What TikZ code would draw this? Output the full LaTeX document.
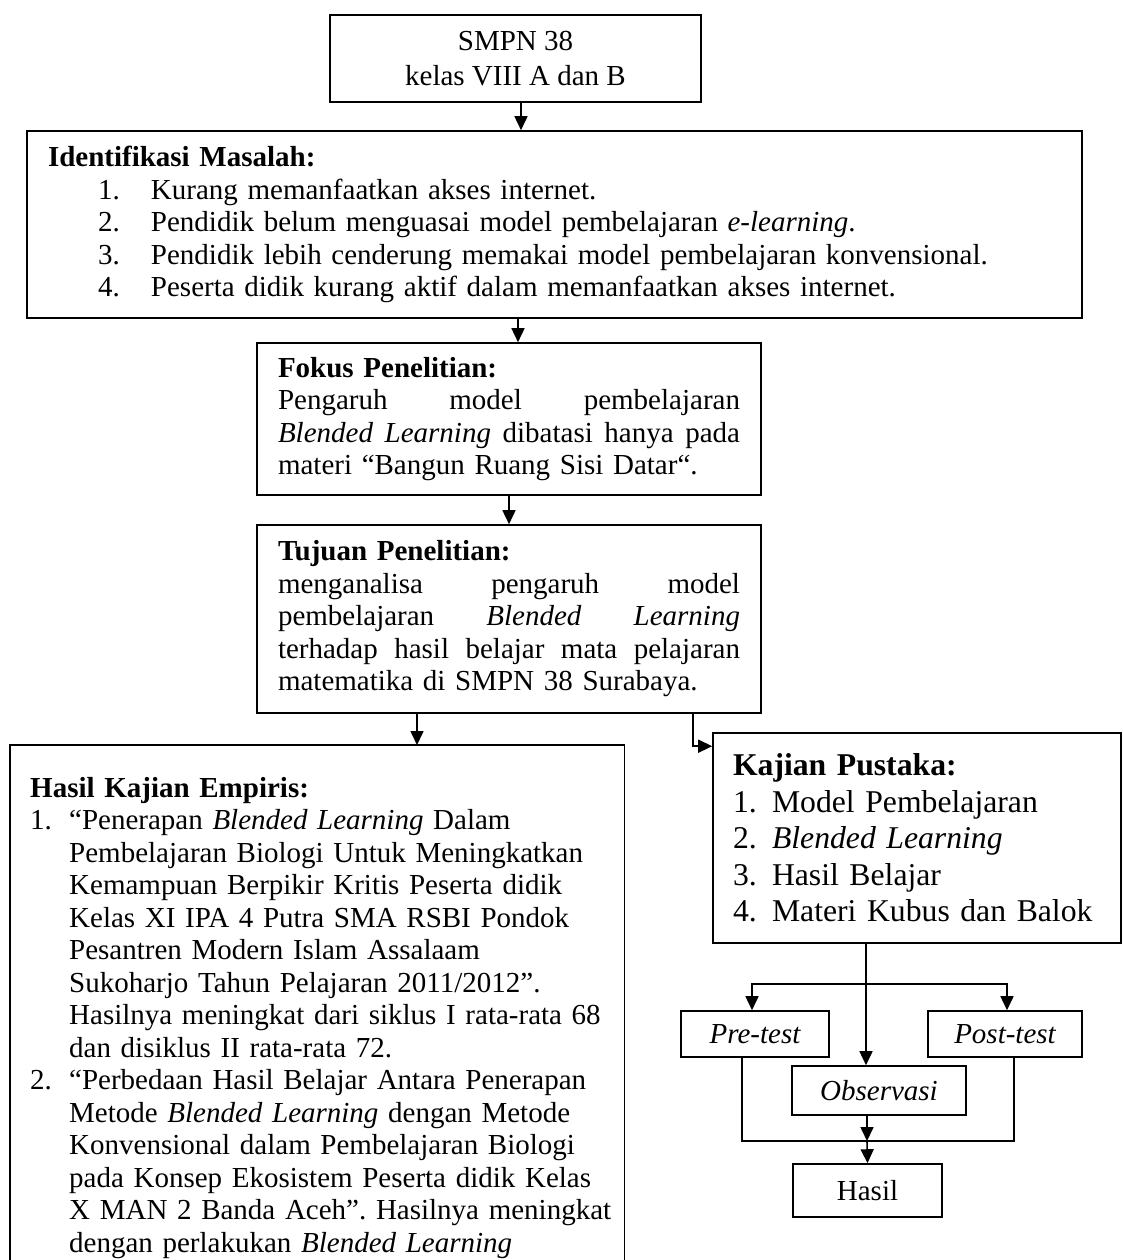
\documentclass[tikz,border=0pt]{standalone}
\usepackage{fontspec}
\setmainfont{Liberation Serif}
\usetikzlibrary{arrows.meta,positioning,calc}
\frenchspacing
\newcommand{\body}{\fontsize{29}{32.5}\selectfont}
\newcommand{\nm}[1]{\makebox[39pt][l]{#1}}
\tikzset{
  box/.style={draw,line width=1.6pt,inner xsep=21pt,inner ysep=0pt,align=left,font=\body},
  arr/.style={line width=1.6pt,-{Triangle[length=14pt,width=13pt]}},
  wire/.style={line width=1.6pt},
}

\begin{document}
\begin{tikzpicture}[x=1pt,y=-1pt]
 \useasboundingbox (0,0) rectangle (1123,1260);
 \node[box,align=center,minimum width=371pt,minimum height=87pt,
   font=\fontsize{29}{35}\selectfont] (smp) at (515.5,58.5) {SMPN 38\\kelas VIII A dan B};
 \node[box,text width=1013pt,minimum height=187pt] (iden) at (554.5,224.5)
  {\textbf{Identifikasi Masalah:}\\
   \hspace*{50pt}\makebox[53pt][l]{1.}Kurang memanfaatkan akses internet.\\
   \hspace*{50pt}\makebox[53pt][l]{2.}Pendidik belum menguasai model pembelajaran \textit{e-learning}.\\
   \hspace*{50pt}\makebox[53pt][l]{3.}Pendidik lebih cenderung memakai model pembelajaran konvensional.\\
   \hspace*{50pt}\makebox[53pt][l]{4.}Peserta didik kurang aktif dalam memanfaatkan akses internet.};
 \node[box,text width=462pt,minimum height=152pt] (fokus) at (509,419)
  {\textbf{Fokus Penelitian:}\\
   Pengaruh\hfill model\hfill pembelajaran\\
   \textit{Blended}\hfill\textit{Learning}\hfill dibatasi\hfill hanya\hfill pada\\
   materi “Bangun Ruang Sisi Datar“.};
 \node[box,text width=462pt,minimum height=188pt] (tujuan) at (509,619)
  {\textbf{Tujuan Penelitian:}\\
   menganalisa\hfill pengaruh\hfill model\\
   pembelajaran\hfill\textit{Blended}\hfill\textit{Learning}\\
   terhadap\hfill hasil\hfill belajar\hfill mata\hfill pelajaran\\
   matematika di SMPN 38 Surabaya.};
 \node[anchor=north west,align=left,font=\body,inner xsep=20pt,inner ysep=32pt,
   text width=594pt] (empiris) at (10,745)
  {\textbf{Hasil Kajian Empiris:}\\
   \nm{1.}“Penerapan \textit{Blended Learning} Dalam\\
   \nm{}Pembelajaran Biologi Untuk Meningkatkan\\
   \nm{}Kemampuan Berpikir Kritis Peserta didik\\
   \nm{}Kelas XI IPA 4 Putra SMA RSBI Pondok\\
   \nm{}Pesantren Modern Islam Assalaam\\
   \nm{}Sukoharjo Tahun Pelajaran 2011/2012”.\\
   \nm{}Hasilnya meningkat dari siklus I rata-rata 68\\
   \nm{}dan disiklus II rata-rata 72.\\
   \nm{2.}“Perbedaan Hasil Belajar Antara Penerapan\\
   \nm{}Metode \textit{Blended Learning} dengan Metode\\
   \nm{}Konvensional dalam Pembelajaran Biologi\\
   \nm{}pada Konsep Ekosistem Peserta didik Kelas\\
   \nm{}X MAN 2 Banda Aceh”. Hasilnya meningkat\\
   \nm{}dengan perlakukan \textit{Blended Learning}};
 \draw[wire] (empiris.north west) rectangle ([xshift=-20pt]empiris.south east);
 \node[box,inner xsep=20pt,text width=368pt,minimum height=210pt,
   font=\fontsize{31.7}{36.5}\selectfont] (pustaka) at (917,838)
  {\textbf{Kajian Pustaka:}\\
   \nm{1.}Model Pembelajaran\\
   \nm{2.}\textit{Blended Learning}\\
   \nm{3.}Hasil Belajar\\
   \nm{4.}Materi Kubus dan Balok};
 \node[box,align=center,inner xsep=0pt,minimum width=148pt,minimum height=46pt,
   font=\body\itshape] (pre) at (755,1034) {Pre-test};
 \node[box,align=center,inner xsep=0pt,minimum width=154pt,minimum height=46pt,
   font=\body\itshape] (post) at (1005,1034) {Post-test};
 \node[box,align=center,inner xsep=0pt,minimum width=174pt,minimum height=49pt,
   font=\body\itshape] (obs) at (879,1090.5) {Observasi};
 \node[box,align=center,inner xsep=0pt,minimum width=149pt,minimum height=53pt] (hasil) at (867.5,1190.5) {Hasil};
 \coordinate (split) at (866,984);
 \coordinate (merge) at (867,1141);
 \draw[arr] ([xshift=5.5pt]smp.south) -- ([xshift=5.5pt]smp.south |- iden.north);
 \draw[arr] ([xshift=9pt]fokus.north |- iden.south) -- ([xshift=9pt]fokus.north);
 \draw[arr] (fokus.south) -- (tujuan.north);
 \draw[arr] ([xshift=-92pt]tujuan.south) -- ([xshift=-92pt]tujuan.south |- empiris.north);
 \draw[arr] ([xshift=184pt]tujuan.south) |- ([yshift=-14pt]pustaka.north west);
 \draw[arr] ([xshift=-51pt]pustaka.south) -- ([xshift=-51pt]pustaka.south |- obs.north);
 \draw[arr] (split) -| ([xshift=-3pt]pre.north);
 \draw[arr] (split) -| ([xshift=2pt]post.north);
 \draw[wire] ([xshift=-13pt]pre.south) |- (merge) -| ([xshift=9pt]post.south);
 \draw[arr] (obs.south -| merge) -- (merge);
 \draw[arr] (merge) -- (hasil.north);
\end{tikzpicture}
\end{document}
